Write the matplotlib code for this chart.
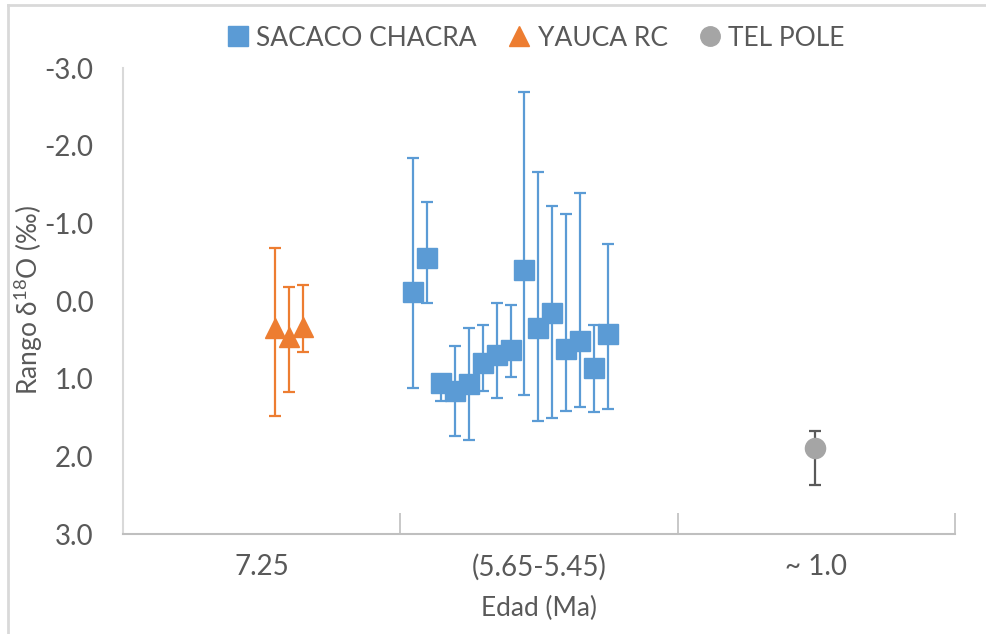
import numpy as np
import matplotlib
matplotlib.use("Agg")
import matplotlib.pyplot as plt
from matplotlib.lines import Line2D

plt.rcParams['font.family'] = ['Lato', 'DejaVu Sans']
plt.rcParams['mathtext.fontset'] = 'custom'
plt.rcParams['mathtext.rm'] = 'Lato'

# categories on the x axis
categories = ["7.25", "(5.65-5.45)", "~ 1.0"]

# YAUCA RC
yauca_x = [0.548, 0.598, 0.649]
yauca_y = [0.35, 0.46, 0.33]
yauca_top = [-0.69, -0.19, -0.21]
yauca_bot = [1.48, 1.17, 0.65]

# SACACO CHACRA
sacaco_x = [1.047, 1.098, 1.148, 1.198, 1.249, 1.299, 1.348, 1.398,
            1.447, 1.498, 1.547, 1.598, 1.648, 1.697, 1.748]
sacaco_y = [-0.12, -0.56, 1.05, 1.16, 1.07, 0.79, 0.69, 0.63,
            -0.40, 0.35, 0.15, 0.61, 0.51, 0.86, 0.42]
sacaco_top = [-1.85, -1.28, 0.95, 0.58, 0.34, 0.31, 0.02, 0.05,
              -2.70, -1.67, -1.23, -1.12, -1.39, 0.31, -0.74]
sacaco_bot = [1.12, 0.02, 1.28, 1.74, 1.79, 1.16, 1.24, 0.98,
              1.21, 1.54, 1.50, 1.41, 1.36, 1.43, 1.39]

# TEL POLE
tel_x = [2.496]
tel_y = [1.89]
tel_top = [1.67]
tel_bot = [2.37]

blue = '#5B9BD5'
orange = '#ED7D31'
gray = '#A5A5A5'
txt = '#595959'


def errs(y, top, bot):
    y = np.array(y)
    return [y - np.array(top), np.array(bot) - y]


fig = plt.figure(figsize=(9.86, 6.34), dpi=100)
ax = fig.add_axes([0.1244, 0.1573, 0.8442, 0.735])

ax.errorbar(sacaco_x, sacaco_y, yerr=errs(sacaco_y, sacaco_top, sacaco_bot),
            fmt='s', color=blue, ms=14, ecolor=blue, elinewidth=1.6,
            capsize=4.5, capthick=1.6)
ax.errorbar(yauca_x, yauca_y, yerr=errs(yauca_y, yauca_top, yauca_bot),
            fmt='^', color=orange, ms=14.5, ecolor=orange, elinewidth=1.6,
            capsize=4.5, capthick=1.6)
ax.errorbar(tel_x, tel_y, yerr=errs(tel_y, tel_top, tel_bot),
            fmt='o', color=gray, ms=14.5, ecolor='#595959', elinewidth=1.6,
            capsize=4.5, capthick=1.6)

ax.set_xlim(0, 3)
ax.set_ylim(3, -3)
ax.set_yticks(np.arange(-3, 3.1, 1))
ax.set_yticklabels([f"{v:.1f}" for v in np.arange(-3, 3.1, 1)])
ax.set_xticks([0.5, 1.5, 2.5])
ax.set_xticklabels(categories)
ax.set_xticks([0, 1, 2, 3], minor=True)
ax.tick_params(axis='x', which='major', length=0, pad=14, labelsize=20, labelcolor=txt)
ax.tick_params(axis='x', which='minor', direction='in', length=15, width=1.2, color='#BFBFBF')
ax.tick_params(axis='y', length=0, pad=21, labelsize=20, labelcolor=txt)

for s in ['top', 'right']:
    ax.spines[s].set_visible(False)
ax.spines['left'].set_color('#D9D9D9')
ax.spines['left'].set_linewidth(1.5)
ax.spines['bottom'].set_color('#BFBFBF')
ax.spines['bottom'].set_linewidth(1.5)

ax.set_xlabel('Edad (Ma)', fontsize=19, color=txt, labelpad=11)
fig.text(0.029, 0.527, 'Rango δ$^{18}$O (‰)', rotation=90, fontsize=19,
         color=txt, ha='center', va='center')

handles = [
    Line2D([], [], marker='s', color=blue, ls='none', ms=14),
    Line2D([], [], marker='^', color=orange, ls='none', ms=14),
    Line2D([], [], marker='o', color=gray, ls='none', ms=14),
]
fig.legend(handles, ['SACACO CHACRA', 'YAUCA RC', 'TEL POLE'], ncol=3,
           loc='center', bbox_to_anchor=(0.541, 0.94), frameon=False,
           fontsize=19, labelcolor=txt, handletextpad=0.1, columnspacing=1.0,
           handlelength=1.2)

# chart area border
fig.add_artist(Line2D([8 / 986, 1], [1 - 5 / 634] * 2, transform=fig.transFigure,
                      color='#D9D9D9', lw=2))
fig.add_artist(Line2D([8 / 986] * 2, [0, 1 - 5 / 634], transform=fig.transFigure,
                      color='#D9D9D9', lw=2))

fig.savefig('out.png', dpi=100)
